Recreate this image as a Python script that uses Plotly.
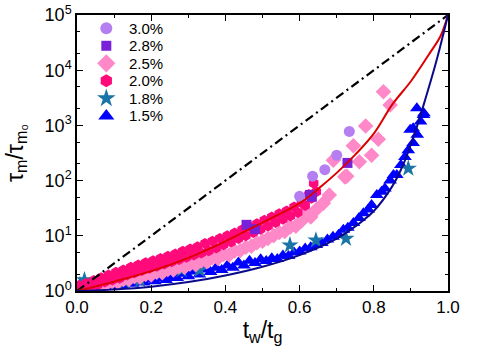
import plotly.graph_objects as go

# concentration series: x = t_w/t_g, y = tau_m/tau_m0
c30_x = [0.635, 0.668, 0.700, 0.734, 0.600]
c30_y = [120, 158, 288, 776, 52]

c28_x = [0.457, 0.480, 0.628, 0.633, 0.729]
c28_y = [15.8, 13.2, 55, 51, 209]

c25_x = [0.02, 0.035, 0.05, 0.065, 0.08, 0.095, 0.11, 0.125, 0.14, 0.155, 0.17, 0.185,
         0.2, 0.215, 0.23, 0.245, 0.26, 0.275, 0.29, 0.305, 0.32, 0.335, 0.35, 0.365,
         0.38, 0.395, 0.41, 0.425, 0.44, 0.455, 0.47, 0.485, 0.5, 0.515, 0.53, 0.545,
         0.56, 0.575, 0.59, 0.605, 0.615, 0.63, 0.645, 0.664, 0.68, 0.691, 0.722,
         0.727, 0.745, 0.761, 0.778, 0.794, 0.812, 0.826, 0.844]
c25_y = [1.10, 1.20, 1.22, 1.32, 1.35, 1.48, 1.45, 1.62, 1.62, 1.82, 1.78, 2.0,
         1.95, 2.2, 2.15, 2.45, 2.4, 2.75, 2.7, 3.1, 3.0, 3.5, 3.4, 4.0,
         3.9, 4.6, 4.5, 5.3, 5.4, 6.2, 6.5, 7.5, 8.0, 9.0, 10.0, 11.5,
         12.0, 14.5, 15.0, 18.5, 26.0, 22.0, 30.0, 39, 55, 234, 117,
         120, 427, 219, 977, 288, 562, 4070, 2340]

c20_x = [0.005, 0.015, 0.025, 0.035, 0.045, 0.055, 0.065, 0.075, 0.085, 0.095, 0.105,
         0.115, 0.125, 0.135, 0.145, 0.155, 0.165, 0.175, 0.185, 0.195, 0.205, 0.215,
         0.225, 0.235, 0.245, 0.255, 0.265, 0.275, 0.285, 0.295, 0.305, 0.315, 0.325,
         0.335, 0.345, 0.355, 0.365, 0.375, 0.385, 0.395, 0.405, 0.415, 0.425, 0.435,
         0.445, 0.455, 0.465, 0.475, 0.485, 0.495, 0.505, 0.515, 0.525, 0.535, 0.545,
         0.555, 0.565, 0.575, 0.585, 0.595, 0.605, 0.615, 0.625, 0.632, 0.638, 0.645]
c20_y = [1.26, 1.07, 1.38, 1.17, 1.55, 1.29, 1.74, 1.45, 1.95, 1.58, 2.19,
         1.70, 2.40, 1.95, 2.69, 2.14, 2.95, 2.34, 3.24, 2.57, 3.55, 2.82,
         3.89, 3.09, 4.27, 3.39, 4.68, 3.72, 5.25, 4.07, 5.75, 4.47, 6.31,
         4.90, 7.24, 5.37, 7.94, 6.03, 8.91, 6.92, 10.0, 7.76, 11.2, 8.91,
         12.9, 10.0, 14.8, 11.5, 16.6, 13.2, 19.1, 15.1, 21.9, 17.4, 25.1,
         20.0, 28.2, 22.9, 33.1, 26.3, 39.8, 35.5, 56.2, 47.9, 89.1, 63.1]

c18_x = [0.008, 0.02, 0.075, 0.129, 0.17, 0.282, 0.33, 0.574, 0.644, 0.725, 0.893]
c18_y = [1.29, 1.58, 1.48, 1.48, 1.58, 2.40, 2.40, 6.76, 8.3, 8.9, 166]

c15_x = [0.005, 0.015, 0.03, 0.045, 0.06, 0.075, 0.09, 0.105, 0.12, 0.135, 0.15, 0.165,
         0.18, 0.195, 0.21, 0.225, 0.24, 0.255, 0.27, 0.285, 0.30, 0.315, 0.33, 0.345,
         0.36, 0.375, 0.39, 0.405, 0.42, 0.435, 0.45, 0.465, 0.48, 0.495, 0.51, 0.525,
         0.54, 0.555, 0.57, 0.585, 0.60, 0.615, 0.63, 0.645, 0.66, 0.675, 0.69, 0.705,
         0.718, 0.73, 0.745, 0.76, 0.772, 0.785, 0.794, 0.808, 0.821, 0.83, 0.844,
         0.853, 0.862, 0.873, 0.884, 0.893, 0.898, 0.906, 0.906, 0.917, 0.916, 0.926,
         0.935, 0.934]
c15_y = [1.10, 1.20, 1.12, 1.25, 1.15, 1.30, 1.22, 1.38, 1.28, 1.45, 1.35, 1.50,
         1.42, 1.62, 1.50, 1.70, 1.58, 1.80, 1.72, 2.05, 1.85, 2.25, 2.0, 2.45,
         2.2, 2.65, 2.4, 2.9, 2.65, 3.3, 2.9, 3.55, 3.2, 3.75, 3.5, 3.9,
         3.8, 4.4, 4.3, 5.0, 5.2, 5.9, 6.2, 6.8, 7.4, 8.6, 9.6, 10.5,
         12.9, 14, 17, 21, 25.7, 30, 36, 55, 63, 72, 100,
         126, 126, 191, 269, 355, 832, 479, 891, 676, 2040, 1175,
         1660, 1550]

# fitted curves and reference line
red_x = [0, 0.1, 0.2, 0.3, 0.4, 0.5, 0.6, 0.65, 0.7, 0.75, 0.8, 0.85, 0.9, 0.95, 0.98, 1.0]
red_y = [1, 1.48, 2.29, 3.98, 7.94, 17.4, 38.9, 70.8, 138, 295, 708, 2400, 6310, 20000, 41700, 100000]

blue_x = [0, 0.1, 0.2, 0.3, 0.4, 0.5, 0.6, 0.7, 0.75, 0.8, 0.85, 0.88, 0.91, 0.94, 0.97, 1.0]
blue_y = [1, 1.07, 1.2, 1.45, 1.91, 2.75, 4.47, 8.91, 14.8, 28.2, 79.4, 200, 708, 3160, 15800, 100000]

diag_x = [0, 1]
diag_y = [1, 100000]

# name, x, y, symbol, colour, size in plot, size in legend
series = [
    ("3.0%", c30_x, c30_y, "circle", "#b57ff2", 11, 12),
    ("2.8%", c28_x, c28_y, "square", "#7a20d8", 10, 10),
    ("2.5%", c25_x, c25_y, "diamond", "#ff88c8", 12, 14),
    ("2.0%", c20_x, c20_y, "hexagon", "#ff0a7a", 11, 13),
    ("1.8%", c18_x, c18_y, "star", "#1b74a8", 13, 14),
    ("1.5%", c15_x, c15_y, "triangle-up", "#0000ff", 12, 14),
]
draw_order = [5, 4, 2, 3, 1, 0]

fig = go.Figure()
for i in draw_order:
    name, xs, ys, sym, col, sz, _ = series[i]
    fig.add_trace(go.Scatter(x=xs, y=ys, mode="markers", name=name, showlegend=False,
                             marker=dict(symbol=sym, color=col, size=sz, line=dict(width=0))))

fig.add_trace(go.Scatter(x=diag_x, y=diag_y, mode="lines", showlegend=False,
                         line=dict(color="black", width=2.2, dash="9px,4px,2px,4px")))
fig.add_trace(go.Scatter(x=red_x, y=red_y, mode="lines", showlegend=False,
                         line=dict(color="#dd0000", width=2, shape="spline")))
fig.add_trace(go.Scatter(x=blue_x, y=blue_y, mode="lines", showlegend=False,
                         line=dict(color="#0a0a8a", width=2, shape="spline")))

# hand-made legend in the top-left corner (tighter rows than plotly's legend)
leg_x, leg_top, leg_step = 0.079, 0.952, 0.0635
for k, (name, _, _, sym, col, _, lsz) in enumerate(series):
    ly = leg_top - k * leg_step
    fig.add_trace(go.Scatter(x=[leg_x], y=[ly], xaxis="x2", yaxis="y2", mode="markers",
                             showlegend=False, hoverinfo="skip",
                             marker=dict(symbol=sym, color=col, size=lsz, line=dict(width=0))))
    fig.add_annotation(x=leg_x + 0.056, y=ly, xref="paper", yref="paper", text=name,
                       showarrow=False, xanchor="left", yanchor="middle",
                       font=dict(size=15, color="black"))

fig.update_xaxes(range=[0, 1], dtick=0.2, tickformat=".1f", showgrid=False, zeroline=False,
                 automargin=False, ticklabeloverflow="allow",
                 showline=True, linecolor="black", linewidth=1.5, mirror="ticks",
                 ticks="inside", ticklen=6, tickcolor="black",
                 minor=dict(dtick=0.1, ticks="inside", ticklen=3, tickcolor="black"),
                 tickfont=dict(size=17, color="black"),
                 title=dict(text="t<sub>w</sub>/t<sub>g</sub>", font=dict(size=23, color="black")))
fig.update_yaxes(type="log", range=[0, 5], showgrid=False, zeroline=False,
                 automargin=False, ticklabeloverflow="allow",
                 tickvals=[1, 10, 100, 1000, 10000, 100000],
                 ticktext=["10<sup>0</sup>", "10<sup>1</sup>", "10<sup>2</sup>",
                           "10<sup>3</sup>", "10<sup>4</sup>", "10<sup>5</sup>"],
                 showline=True, linecolor="black", linewidth=1.5, mirror="ticks",
                 ticks="inside", ticklen=6, tickcolor="black",
                 minor=dict(ticks="inside", ticklen=3, tickcolor="black"),
                 tickfont=dict(size=18, color="black"),
                 title=dict(text="τ<sub>m</sub>/τ<sub>m₀</sub>", font=dict(size=23, color="black")))

fig.update_layout(width=491, height=346, margin=dict(l=77, r=43, t=15, b=55),
                  plot_bgcolor="white", paper_bgcolor="white", showlegend=False,
                  font=dict(family="Liberation Sans, Arial, sans-serif"),
                  xaxis2=dict(overlaying="x", range=[0, 1], visible=False),
                  yaxis2=dict(overlaying="y", range=[0, 1], visible=False))

fig.write_html("out.html", config={"displayModeBar": False},
               post_script="document.body.style.margin='0';document.body.style.overflow='hidden';")
